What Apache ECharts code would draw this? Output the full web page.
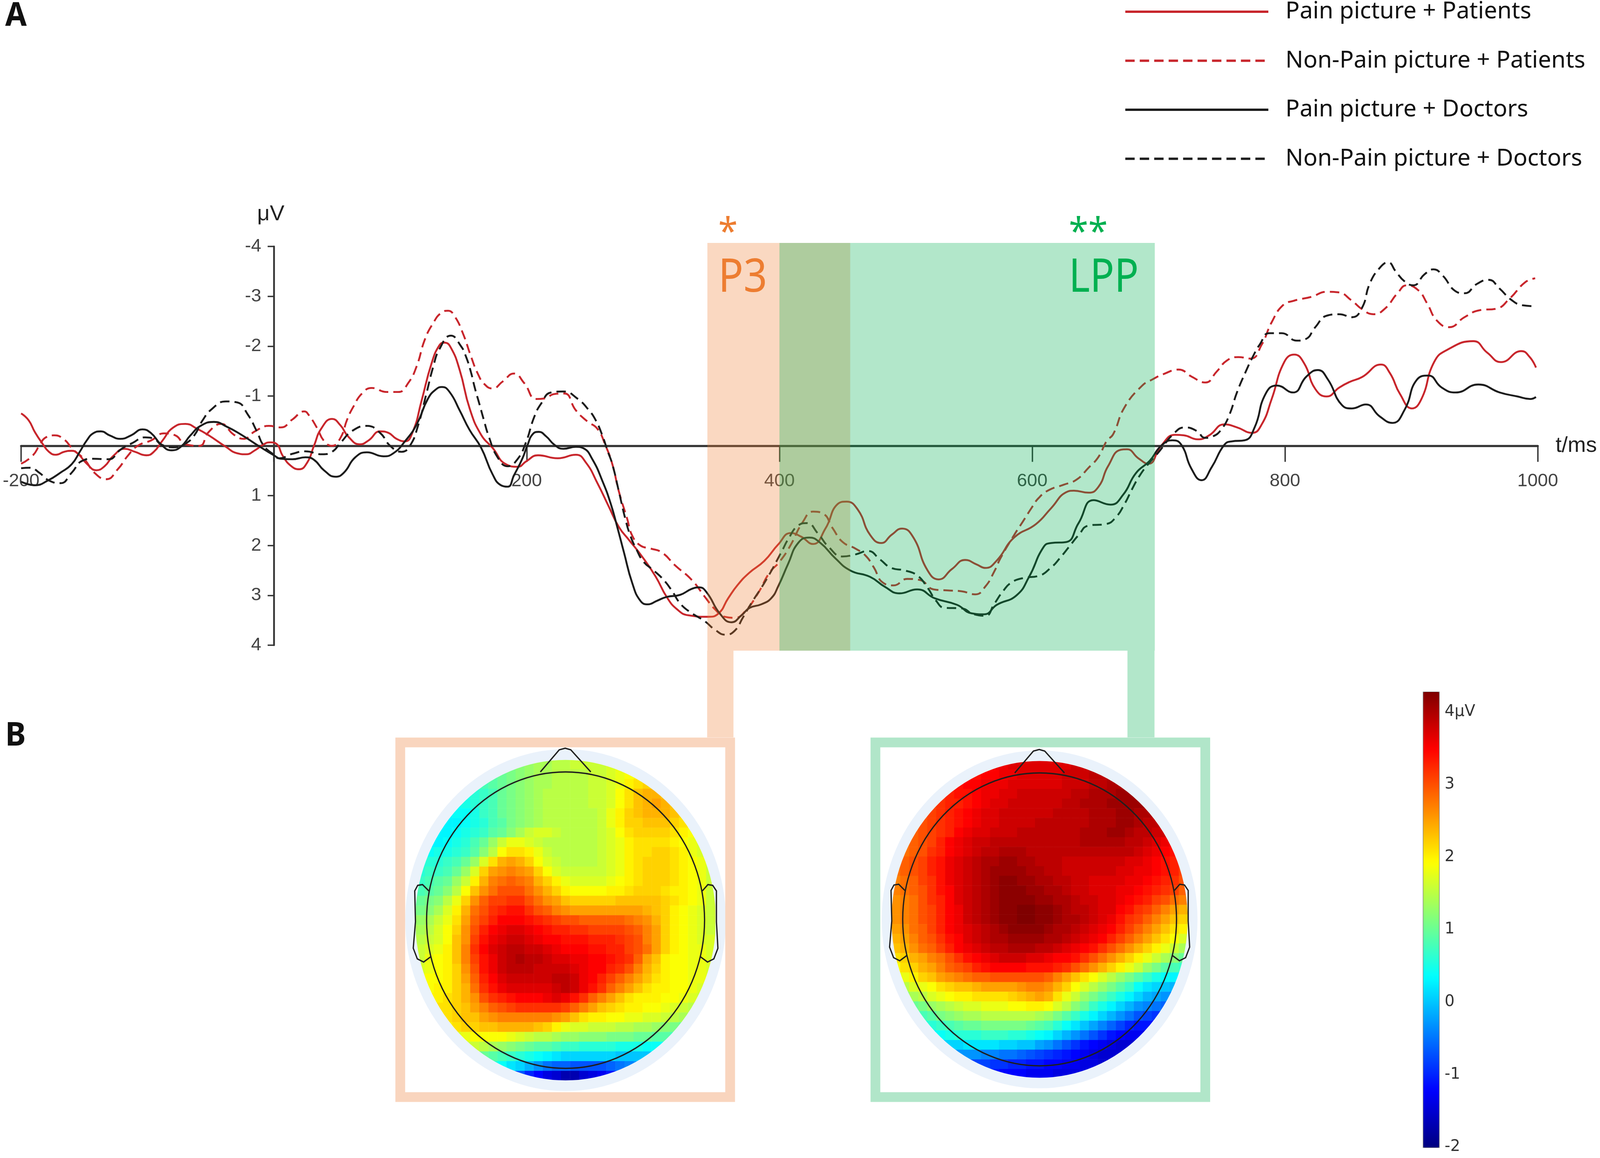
<!DOCTYPE html>
<html>
<head>
<meta charset="utf-8">
<script src="https://cdn.jsdelivr.net/npm/echarts@6/dist/echarts.min.js"></script>
<style>
html, body { margin: 0; padding: 0; background: #fff; overflow: hidden; }
#main { width: 100vw; height: 100vh; }
</style>
</head>
<body>
<div id="main"></div>
<script>
// ERP curves, [ms, uV]
const painPatients = [[-200,-.65],[-194,-.51],[-189,-.27],[-183,-.04],[-178,.12],[-172.5,.18],[-166,.12],[-160,.1],[-155,.16],[-148,.36],[-140.5,.49],[-134,.41],[-127,.2],[-118,.06],[-110,.12],[-101,.19],[-95,.12],[-88,-.11],[-80,-.36],[-70,-.44],[-60.6,-.34],[-51.5,-.21],[-38,.02],[-29,.15],[-22,.17],[-15,.09],[-8,-.03],[-3,-.07],[2,-.04],[7,.2],[13.4,.4],[20,.47],[26.5,.33],[31.7,0],[37.6,-.35],[46,-.54],[52.7,-.41],[59,-.18],[68,-.03],[75,-.11],[84,-.29],[90.6,-.26],[97,-.14],[103.7,-.09],[110,-.29],[116.8,-.9],[124.7,-1.65],[131,-2.02],[135,-2.07],[140,-1.97],[147,-1.52],[155,-.74],[164,-.22],[173,.04],[183.6,.37],[193,.42],[199.7,.31],[209,.19],[224.6,.25],[239,.18],[247,.34],[256,.75],[265,1.22],[273,1.63],[281,1.89],[291,2.21],[302,2.62],[311,3.04],[319,3.28],[328,3.4],[343.7,3.43],[351.5,3.37],[359.4,3.06],[367,2.79],[376,2.55],[388,2.31],[399,1.98],[409,1.75],[417,1.82],[426.6,1.97],[436.4,1.66],[446,1.17],[453,1.12],[462,1.28],[471.8,1.79],[480.6,1.95],[489,1.78],[497,1.66],[506,1.84],[517,2.49],[526,2.68],[536.6,2.47],[547,2.29],[556,2.38],[563,2.45],[572,2.3],[585.7,1.84],[603,1.57],[615,1.25],[627,.93],[633,.9],[644.6,.94],[652.5,.82],[660,.41],[670,.08],[675,.07],[684,.25],[692,.36],[702,0],[713,-.22],[720,-.21],[731,-.13],[740,-.21],[752,-.43],[762,-.37],[774,-.26],[781.6,-.43],[789.5,-.94],[799.4,-1.68],[807.4,-1.83],[815.3,-1.65],[824,-1.14],[833,-.99],[843,-1.17],[851,-1.28],[861,-1.38],[876,-1.63],[883,-1.46],[891,-1.04],[900.5,-.75],[908,-.94],[918,-1.68],[928,-1.92],[949,-2.1],[960,-1.87],[971,-1.68],[987,-1.9],[993.7,-1.78],[998.6,-1.57]];
const nonPainPatients = [[-200,.36],[-191,.2],[-185,-.03],[-181,-.16],[-174,-.21],[-166.6,-.14],[-159,.07],[-149.6,.28],[-142,.54],[-132.6,.67],[-123.5,.47],[-115.6,.2],[-107.8,0],[-97,-.11],[-87,-.25],[-78,-.21],[-70,-.03],[-59,0],[-51.5,-.28],[-41.6,-.44],[-32,-.23],[-24,-.14],[-15,-.29],[-4,-.4],[5.5,-.37],[14.7,-.53],[24,-.69],[27.8,-.61],[34.3,-.35],[39.6,-.1],[46,0],[52.7,-.16],[58,-.53],[63,-.79],[69.7,-1.05],[77.5,-1.16],[89.3,-1.08],[98.5,-1.08],[106.3,-1.26],[113,-1.6],[119.4,-2.13],[126,-2.46],[132.5,-2.67],[137.8,-2.71],[143,-2.6],[149.5,-2.26],[156,-1.79],[161.3,-1.45],[166.5,-1.24],[173,-1.15],[181,-1.29],[190,-1.45],[198,-1.26],[207.6,-.94],[214,-.95],[222,-1.04],[229.8,-1.05],[239,-.71],[248,-.49],[256,-.34],[262.5,0],[267.8,.37],[273,.92],[279.5,1.46],[283.5,1.8],[290,2],[298,2.06],[307,2.14],[317.5,2.4],[330.6,2.69],[341,3.03],[349,3.28],[356.8,3.43],[364.6,3.45],[372.5,3.33],[383,2.96],[392,2.55],[400,2.33],[408,2.03],[418.7,1.52],[426.6,1.32],[434.5,1.36],[442.3,1.66],[450,1.93],[460,2.06],[468,2.2],[474.7,2.44],[481.6,2.74],[490.4,2.8],[501,2.67],[511,2.69],[522,2.88],[532.7,2.9],[544.4,2.92],[555,2.98],[563,2.82],[570,2.52],[575,2.25],[585.7,1.79],[592.6,1.52],[599.4,1.25],[605,1.05],[613,.89],[625,.78],[635,.68],[644.6,.44],[652.5,.22],[659,-.1],[664,-.23],[673,-.77],[686.7,-1.2],[695,-1.33],[704,-1.44],[716,-1.53],[726,-1.39],[737,-1.27],[746,-1.49],[754,-1.71],[763,-1.78],[773,-1.75],[781.6,-2.03],[789.5,-2.48],[798.4,-2.82],[807,-2.91],[821,-2.99],[833,-3.09],[842,-3.08],[853,-2.91],[861,-2.74],[870,-2.64],[879,-2.75],[889,-3.06],[896.5,-3.22],[905.5,-3.12],[912.4,-2.86],[920.3,-2.51],[930,-2.38],[942,-2.58],[954,-2.72],[967,-2.75],[978,-2.96],[990,-3.28],[998,-3.36]];
const painDoctors = [[-200,.72],[-189,.79],[-178.4,.69],[-169,.54],[-160,.37],[-153.6,.12],[-148,-.11],[-143,-.25],[-137,-.29],[-130,-.21],[-121.5,-.14],[-113,-.21],[-104,-.33],[-97,-.25],[-89.4,-.03],[-81,.09],[-73.7,.02],[-66,-.21],[-58,-.4],[-47.5,-.48],[-37,-.38],[-25,-.21],[-11,.02],[0,.19],[5.5,.26],[14.7,.27],[25,.23],[31.7,.28],[39.6,.49],[48.7,.62],[55.3,.54],[64.4,.23],[73.6,.13],[86.7,.21],[94.5,.15],[103.7,-.09],[113,-.43],[122,-.95],[128.6,-1.14],[133,-1.18],[139,-1.08],[147,-.71],[154.8,-.32],[164,.04],[173,.57],[179.6,.79],[185,.82],[190,.59],[196.7,.25],[200.6,-.01],[205,-.24],[209.5,-.28],[215.4,-.19],[222,-.02],[229,.06],[239,.02],[245,.05],[252,.27],[260,.71],[266.5,1.16],[271.7,1.63],[277,2.14],[283.5,2.75],[290,3.11],[296,3.18],[303,3.11],[311,3.03],[321.4,2.99],[330.6,2.87],[336.5,2.84],[342.4,2.94],[353,3.37],[362,3.54],[370,3.4],[376.4,3.25],[385.6,3.18],[393.4,3.06],[399,2.82],[407,2.36],[414.8,1.95],[423.6,1.84],[432.5,1.95],[444,2.25],[456,2.5],[471.8,2.63],[483.5,2.83],[495,2.96],[509,2.88],[523,3.06],[540.5,3.19],[552,3.36],[562,3.38],[572,3.19],[587.6,3],[597.5,2.63],[609,2.03],[615,1.95],[627,1.93],[636.7,1.55],[648.5,1.09],[662,1.18],[672,.98],[682,.55],[693,.3],[702,0],[711,-.11],[718,-.02],[726,.46],[734,.69],[742,.43],[752,-.02],[758,-.09],[768,-.11],[776,-.37],[784.6,-1.04],[793.5,-1.21],[806.4,-1.07],[817,-1.39],[826,-1.52],[834,-1.33],[845,-.82],[853,-.75],[864,-.83],[875,-.59],[885,-.46],[894.6,-.72],[904.5,-1.33],[913.4,-1.41],[924,-1.17],[935,-1.07],[953,-1.23],[970,-1.07],[984,-.99],[994,-.94],[998.6,-.98]];
const nonPainDoctors = [[-200,.45],[-193,.44],[-185.6,.54],[-178.4,.69],[-169,.75],[-160,.54],[-151.6,.3],[-143,.26],[-131,.27],[-121,.07],[-111.7,-.06],[-102,-.17],[-94.7,-.14],[-89.4,-.03],[-80,.03],[-71,-.03],[-63,-.21],[-56.7,-.5],[-49,-.74],[-38,-.89],[-29,-.87],[-20.7,-.63],[-13.5,-.29],[-8,0],[0,.18],[4,.25],[14.7,.16],[25,.11],[38,.17],[46,.12],[52.7,-.06],[62,-.3],[73.6,-.4],[84,-.26],[92,0],[101,.12],[107.6,0],[114,-.4],[120.7,-1.05],[126,-1.58],[131,-1.94],[140,-2.21],[148,-2],[152,-1.79],[156,-1.47],[159,-1.16],[162.6,-.84],[166,-.53],[170,-.19],[177,.23],[185,.41],[192.7,.27],[199.3,-.06],[206,-.58],[211.5,-.85],[219.3,-1.07],[229,-1.09],[240,-.95],[249.4,-.71],[254.7,-.51],[260,-.2],[264,.1],[267.8,.37],[273,.92],[278,1.46],[282,1.8],[286.7,2.07],[292.6,2.33],[300.5,2.5],[308.4,2.69],[315,2.91],[321.4,3.16],[329,3.33],[341,3.52],[349,3.69],[357.4,3.79],[364.6,3.71],[371,3.45],[377.7,3.16],[389.5,2.69],[402,2.11],[407,1.87],[414.8,1.6],[421.7,1.55],[430.5,1.76],[439,2.03],[450,2.22],[460,2.18],[470,2.11],[479.6,2.28],[488.5,2.45],[499,2.5],[509,2.6],[517,2.84],[524,3.11],[530.7,3.25],[543.5,3.26],[554,3.38],[563,3.41],[570,3.17],[576.8,2.92],[583.7,2.74],[593.5,2.65],[605,2.61],[615,2.44],[622,2.25],[630,2],[636.7,1.79],[644.6,1.6],[658.3,1.57],[666,1.44],[673,1.17],[679,.87],[685,.6],[692,.36],[699.6,.14],[713,-.27],[721,-.37],[730,-.3],[737,-.16],[743,-.19],[750,-.34],[756,-.62],[762,-1.07],[769,-1.49],[775,-1.81],[780,-2.03],[787.5,-2.26],[797.4,-2.26],[809.3,-2.11],[816.3,-2.14],[824,-2.38],[833,-2.61],[843,-2.64],[853,-2.58],[861,-2.77],[867,-3.25],[875,-3.57],[881.7,-3.68],[887.6,-3.5],[894.6,-3.3],[901.5,-3.22],[910.4,-3.44],[917.4,-3.54],[925,-3.41],[934,-3.12],[942,-3.06],[952,-3.25],[961,-3.33],[970,-3.15],[979,-2.93],[988,-2.82],[998.6,-2.8]];

// time windows [start ms, end ms, top uV, bottom uV]
const bandP3 = [343, 456, -4.07, 4.11];
const bandLPP = [400, 697, -4.07, 4.11];

const legendNames = ['Pain picture + Patients', 'Non-Pain picture + Patients', 'Pain picture + Doctors', 'Non-Pain picture + Doctors'];
const xTicks = [-200, 0, 200, 400, 600, 800, 1000];
const barTicks = [-2, -1, 0, 1, 2, 3, 4];

// topographic maps, tenths of uV, top row to bottom row, each row centred in a 33 cell square
const topoP3 = [
  [11,12,13,14,14,15,15,16,16,16,16,17,17],
  [9,10,11,12,13,14,14,15,15,15,15,16,16,17,18,19,20],
  [8,9,10,11,12,13,14,14,15,15,15,15,16,16,17,18,20,21,22],
  [5,6,7,8,10,11,12,13,14,15,15,15,15,15,16,16,17,19,21,23,24,24,23],
  [4,5,6,7,8,10,11,12,13,14,15,15,15,15,15,16,16,17,19,21,23,24,25,24,23],
  [3,4,4,5,7,8,10,11,12,13,14,15,15,15,15,15,15,16,18,20,22,23,24,24,24,23,22],
  [3,3,4,5,6,8,9,11,12,13,14,15,15,15,15,15,15,16,18,20,22,22,23,23,23,22,21],
  [3,3,4,5,6,7,9,10,12,14,16,17,17,16,15,15,15,15,16,17,19,21,22,22,22,22,21,20,19],
  [3,3,4,5,6,8,10,13,16,18,18,17,16,15,15,15,15,15,15,16,17,18,20,21,21,21,21,20,19,18,17],
  [4,5,5,6,7,9,12,15,19,21,21,20,18,16,15,15,15,15,15,16,17,18,20,21,21,22,22,21,20,18,17],
  [5,6,6,7,8,10,13,17,21,24,25,24,22,19,17,16,15,15,15,15,16,17,18,20,21,22,22,22,21,20,19,18,16],
  [6,7,7,8,10,13,17,22,25,26,27,26,25,22,19,17,16,16,16,16,16,17,18,20,21,22,22,22,21,20,19,18,16],
  [7,8,9,10,13,16,20,24,27,28,29,28,27,24,22,20,18,17,17,17,17,18,19,20,21,22,22,22,21,20,19,18,16],
  [8,9,10,12,15,19,23,26,28,30,30,30,28,26,24,22,20,19,19,19,19,20,20,21,22,22,22,21,20,20,19,18,16],
  [10,11,12,15,18,22,26,29,31,31,32,32,30,28,26,25,23,22,22,22,22,22,23,23,23,23,23,22,21,20,19,18,16],
  [11,12,14,17,20,24,28,30,32,33,34,34,32,30,29,27,26,25,25,25,25,25,25,25,25,24,23,22,20,19,18,17,16],
  [13,14,16,18,21,25,29,31,33,35,35,35,34,33,32,31,30,30,29,29,29,29,29,28,27,26,24,22,20,19,18,17,16],
  [14,15,17,19,22,26,30,33,35,36,37,37,36,35,34,33,33,32,32,31,31,31,31,30,29,27,25,22,20,19,18,17,16],
  [15,16,17,19,23,26,31,34,36,37,38,38,37,36,35,35,34,34,34,33,33,33,32,31,30,27,25,22,20,19,18,17,17],
  [16,17,18,20,23,27,32,35,37,38,39,39,38,38,37,36,35,35,35,34,34,33,33,31,30,28,25,22,20,19,18,18,17],
  [16,18,19,20,23,27,31,34,36,38,39,40,39,39,38,37,37,36,36,35,35,34,33,32,29,25,23,20,19,19,18,18,17],
  [17,18,19,20,22,26,30,34,36,38,39,39,39,38,38,38,38,37,36,35,35,33,32,30,27,24,22,20,19,19,18,18,17],
  [18,19,19,20,22,25,29,33,35,37,38,38,38,38,38,39,39,38,36,35,33,31,29,27,25,23,21,20,19,19,18,18,17],
  [19,20,20,22,24,28,32,34,36,37,37,37,37,37,38,39,38,36,34,32,29,27,25,23,21,20,20,19,19,18,17],
  [20,20,21,22,24,26,30,32,33,34,35,35,35,36,37,36,34,32,29,27,25,23,21,20,20,20,19,19,18,17,16],
  [21,21,22,23,25,27,29,30,31,32,32,32,32,32,31,29,27,25,23,22,21,20,20,19,19,18,17,16,15],
  [21,22,23,23,25,26,27,27,27,27,27,27,26,25,23,21,20,20,19,19,18,18,17,17,16,15,14],
  [20,21,22,22,23,23,24,24,24,24,23,22,20,18,17,17,16,16,16,15,15,14,14,13,12,11,10],
  [17,18,19,19,19,19,18,17,16,15,15,14,13,13,12,12,12,11,11,11,10,10,9,9,8],
  [16,16,15,14,13,12,11,10,9,9,8,7,7,6,6,6,6,5,5,5,4,4,4],
  [10,9,8,7,6,5,4,3,2,1,1,1,1,1,1,0,0,0,0],
  [6,4,2,1,-1,-3,-5,-6,-6,-7,-7,-7,-7,-6,-5,-4,-3],
  [-4,-7,-10,-12,-14,-15,-17,-17,-15,-14,-13,-11,-9]
];
const topoLPP = [
  [35,36,36,37,37,37,37,37,37,37,38,38,38],
  [33,34,35,35,36,36,37,37,37,37,37,38,38,38,39,39,39],
  [34,35,35,36,36,36,37,37,37,37,37,37,38,38,38,39,39,40,40],
  [32,33,34,34,35,36,36,37,37,38,38,38,38,38,38,39,39,40,40,40,41,41,41],
  [31,32,33,33,34,35,36,37,37,38,38,38,38,38,38,39,39,40,40,40,41,41,41,41,41],
  [30,31,32,33,34,35,36,37,37,38,38,38,38,38,38,39,39,39,39,40,40,40,41,41,40,40,39],
  [30,31,32,33,34,35,36,37,37,38,38,38,38,39,39,39,39,39,39,40,40,40,41,41,40,39,39],
  [29,30,31,32,33,35,36,37,37,38,38,38,39,39,39,39,39,39,39,40,40,40,41,41,40,39,39,38,38],
  [28,29,30,31,33,35,36,37,38,38,39,39,39,39,39,39,39,39,39,39,40,40,40,40,40,39,39,38,37,36,35],
  [28,29,30,32,33,35,36,37,38,39,39,40,40,40,39,39,39,39,39,39,39,39,39,39,39,39,38,37,36,35,34],
  [28,29,30,31,33,34,36,37,38,39,40,40,41,41,40,40,39,39,39,38,38,38,38,38,38,38,37,37,36,35,34,33,32],
  [28,29,30,31,33,34,36,37,38,39,40,41,41,41,41,40,40,39,39,38,38,38,38,38,38,37,37,36,36,35,34,33,31],
  [27,28,29,31,32,34,36,37,38,39,40,41,42,42,41,41,40,40,39,39,38,38,37,37,37,37,36,36,35,34,33,32,30],
  [27,28,29,30,32,34,35,37,38,39,40,41,42,42,42,41,41,40,40,39,38,38,37,37,37,36,36,35,34,33,32,31,29],
  [26,27,28,30,32,33,35,37,38,39,40,41,42,42,42,42,41,41,40,40,39,38,38,37,37,36,35,34,33,31,30,28,27],
  [26,27,28,30,31,33,35,36,38,39,40,41,42,42,43,43,42,42,41,40,39,39,38,37,37,35,34,32,31,29,27,25,24],
  [26,27,28,30,31,33,35,36,38,39,40,41,42,42,43,43,42,42,41,40,40,39,38,37,36,34,32,31,29,27,25,23,22],
  [25,26,28,29,31,33,35,36,37,38,39,40,41,42,42,42,42,41,40,40,39,38,37,36,35,33,31,29,27,25,23,21,20],
  [24,25,27,29,30,32,34,35,37,38,39,40,40,41,41,41,41,40,40,39,38,37,36,35,33,31,29,27,25,23,21,19,17],
  [23,24,26,28,29,31,33,35,36,37,38,39,39,40,40,40,39,39,38,37,36,35,34,32,30,28,26,24,22,20,18,16,14],
  [21,22,24,25,27,28,30,32,34,35,36,37,38,38,38,37,37,36,35,35,34,32,30,28,26,24,22,20,18,16,14,12,10],
  [19,21,22,24,25,27,29,30,31,33,34,35,35,35,35,34,34,34,33,32,30,28,26,24,22,20,18,16,13,11,9,8,7],
  [17,18,20,22,23,25,26,27,28,29,29,30,30,30,30,30,30,29,27,25,23,21,19,17,15,13,11,9,7,5,4,3,2],
  [15,17,18,19,21,22,23,23,24,25,25,25,25,26,27,27,26,24,22,19,17,15,13,11,9,7,4,2,1,0,-1],
  [12,14,15,17,18,19,20,20,21,21,21,21,22,23,24,25,24,21,18,16,13,11,9,7,5,3,1,-1,-2,-3,-4],
  [10,11,13,14,15,16,17,17,18,18,18,19,19,20,20,19,17,15,12,10,7,5,3,1,-1,-3,-4,-5,-6],
  [8,9,11,12,13,14,14,15,15,15,15,15,15,14,13,11,9,7,5,3,1,-1,-3,-5,-7,-8,-9],
  [5,6,7,8,9,10,10,11,11,11,11,11,10,9,8,6,4,2,0,-2,-4,-6,-8,-10,-11,-11,-12],
  [3,4,5,6,6,6,7,7,7,6,6,5,4,3,1,-1,-3,-5,-7,-9,-11,-12,-13,-13,-14],
  [0,1,1,2,2,2,2,1,1,0,0,-2,-3,-5,-7,-9,-11,-12,-13,-14,-15,-15,-15],
  [-3,-3,-3,-4,-4,-5,-5,-6,-7,-8,-9,-10,-11,-12,-13,-14,-15,-15,-15],
  [-7,-8,-8,-9,-9,-10,-10,-11,-11,-12,-12,-13,-13,-14,-14,-15,-15],
  [-11,-11,-12,-12,-12,-13,-13,-13,-14,-14,-14,-14,-15]
];

const RED = '#c8262c';
const BLACK = '#1c1c1c';
const PEACH = 'rgba(237,125,49,0.3)';
const GREEN = 'rgba(0,176,80,0.3)';
const DASH = [24, 13];
const UI_FONT = '"Noto Sans", sans-serif';
const AXIS_FONT = '"Liberation Sans Narrow", "Liberation Sans", sans-serif';

const chart = echarts.init(document.getElementById('main'));

// the layout was measured on a 4317 wide picture, the window can be narrower
const S = chart.getWidth() / 4317;

// flatten rows into [col, row, uV] cells
function topoCells(rows) {
    const cells = [];
    rows.forEach((row, i) => {
        const start = (33 - row.length) / 2;
        row.forEach((v, k) => cells.push([start + k, i, v / 10]));
    });
    return cells;
}

function erpLine(name, data, color, dashed) {
    return {
        type: 'line', name: name, data: data, xAxisIndex: 0, yAxisIndex: 0,
        smooth: 0.5, symbol: 'none', showSymbol: false, z: 3,
        lineStyle: { color: color, width: 4.8, type: dashed ? DASH : 'solid' },
        itemStyle: { color: color }
    };
}

function topoSeries(rows, index) {
    return {
        type: 'heatmap', data: topoCells(rows), xAxisIndex: index, yAxisIndex: index,
        progressive: 0, itemStyle: { borderWidth: 0 }, emphasis: { disabled: true }
    };
}

// pale halo, scalp circle, nose and ears of one head
function headShapes(cx, cy, sx, sy) {
    const line = { stroke: '#1f1f1f', lineWidth: 3.5, fill: null };
    return {
        type: 'group', x: cx * S, y: cy, scaleX: sx * S, scaleY: sy, children: [
            { type: 'circle', z: 20, shape: { cx: 0, cy: 0, r: 450 }, style: { stroke: '#ffffff', lineWidth: 37, fill: null } },
            { type: 'circle', z: 20, shape: { cx: 0, cy: 0, r: 419 }, style: { stroke: '#eaf2fb', lineWidth: 27, fill: null } },
            { type: 'circle', z: 21, shape: { cx: 0, cy: 0, r: 375 }, style: line },
            { type: 'polyline', z: 21, shape: { points: [[-68,-375],[-17,-431],[-1,-435],[14,-431],[68,-375]] }, style: line },
            { type: 'polyline', z: 21, shape: { points: [[-369,-74],[-386,-90],[-399,-88],[-407,-74],[-405,4],[-411,71],[-400,98],[-383,106],[-363,92]] }, style: line },
            { type: 'polyline', z: 21, shape: { points: [[369,-74],[384,-90],[397,-88],[407,-74],[407,4],[411,71],[400,98],[383,106],[363,92]] }, style: line }
        ]
    };
}

function label(text, x, y, size, color, weight, squeeze) {
    return {
        type: 'text', z: 30, x: x * S, y: y, scaleX: (squeeze || 1) * S,
        style: { text: text, font: (weight || 'normal') + ' ' + size + 'px ' + UI_FONT, fill: color, verticalAlign: 'middle' }
    };
}

const hiddenCat = (index) => ({
    type: 'category', gridIndex: index, show: false, boundaryGap: true,
    data: Array.from({ length: 33 }, (_, i) => i)
});

const option = {
    animation: false,
    backgroundColor: '#ffffff',
    grid: [
        { left: 57 * S, right: 168 * S, top: 631, bottom: 1313, outerBoundsMode: 'none' },
        { left: 1122 * S, top: 1945, width: 808 * S, height: 822, outerBoundsMode: 'none' },
        { left: 2405 * S, top: 1946, width: 800 * S, height: 816, outerBoundsMode: 'none' },
        { left: 3839 * S, top: 1771, width: 43 * S, height: 1166, outerBoundsMode: 'none' }
    ],
    xAxis: [
        {
            type: 'value', gridIndex: 0, min: -200, max: 1000, interval: 200,
            name: 't/ms', nameLocation: 'end', nameGap: 48 * S,
            nameTextStyle: { fontFamily: AXIS_FONT, fontSize: 56, color: '#222' },
            splitLine: { show: false },
            axisLine: { onZero: true, lineStyle: { color: '#333', width: 5.5 } },
            axisTick: { length: 41, lineStyle: { color: '#333', width: 3.5 }, customValues: xTicks },
            axisLabel: {
                // labels stay at the grid edge in v6, pull them back under the zero line
                margin: -443, fontFamily: AXIS_FONT, fontSize: 47, color: '#444',
                customValues: xTicks.filter(v => v !== 0), formatter: v => String(v)
            }
        },
        hiddenCat(1), hiddenCat(2),
        { type: 'category', gridIndex: 3, show: false, data: ['bar'] }
    ],
    yAxis: [
        {
            type: 'value', gridIndex: 0, min: -4, max: 4, interval: 1, inverse: true,
            name: 'μV', nameLocation: 'start', nameGap: 54,
            nameTextStyle: { fontFamily: AXIS_FONT, fontSize: 56, color: '#222', align: 'center', padding: [0, 16, 0, 0] },
            splitLine: { show: false },
            axisLine: { onZero: true, lineStyle: { color: '#333', width: 4.5 } },
            axisTick: { length: 16, lineStyle: { color: '#333', width: 3.5 } },
            axisLabel: {
                margin: -648 * S, fontFamily: AXIS_FONT, fontSize: 47, color: '#444',
                formatter: v => (v === 0 ? '' : String(v))
            }
        },
        { ...hiddenCat(1), inverse: true }, { ...hiddenCat(2), inverse: true },
        {
            type: 'value', gridIndex: 3, position: 'right', min: -2, max: 4.28,
            splitLine: { show: false }, axisLine: { show: false },
            axisTick: { inside: true, length: 13, lineStyle: { color: '#444', width: 2.5 }, customValues: barTicks },
            axisLabel: {
                margin: 15, padding: [12, 0, 0, 0], fontFamily: '"DejaVu Sans", sans-serif', fontSize: 40, color: '#333',
                customValues: barTicks, formatter: v => (v === 4 ? '4μV' : String(v))
            }
        }
    ],
    legend: {
        data: legendNames, orient: 'vertical', left: 3033 * S, top: 0, padding: 0,
        itemWidth: 386 * S, itemHeight: 56, itemGap: 65.5,
        itemStyle: { opacity: 0 },
        lineStyle: { width: 6 },
        textStyle: { fontFamily: UI_FONT, fontSize: 60, color: '#111', lineHeight: 56, padding: [0, 0, 0, 41 * S] }
    },
    visualMap: {
        type: 'continuous', seriesIndex: [5, 6], min: -2, max: 4.28, calculable: false,
        show: true, left: 3839 * S, top: 1771, itemWidth: 43 * S, itemHeight: 1166, padding: 0,
        text: null, showLabel: false, borderColor: '#666', borderWidth: 2,
        indicatorSize: 0, hoverLink: false,
        inRange: { color: ['#00007f', '#0000ff', '#007fff', '#00ffff', '#7fff7f', '#ffff00', '#ff7f00', '#ff0000', '#7f0000'] }
    },
    graphic: [
        label('A', 14, 42, 84, '#111', 'bold'),
        label('B', 14, 1885, 84, '#111', 'bold'),
        label('*', 1938, 598, 95, '#ed7d31'),
        label('**', 2884, 598, 95, '#00b050'),
        label('P3', 1938, 713, 118, '#ed7d31', 'normal', 0.95),
        label('LPP', 2884, 713, 118, '#00b050', 'normal', 0.92),
        { type: 'rect', z: 22, shape: { x: 1908 * S, y: 1666, width: 71 * S, height: 222 }, style: { fill: PEACH } },
        { type: 'rect', z: 22, shape: { x: 3042 * S, y: 1666, width: 73 * S, height: 222 }, style: { fill: GREEN } },
        { type: 'rect', z: 22, shape: { x: 1080 * S, y: 1901, width: 890 * S, height: 908 }, style: { stroke: '#f9d5be', lineWidth: 25, fill: null } },
        { type: 'rect', z: 22, shape: { x: 2362 * S, y: 1901, width: 890 * S, height: 908 }, style: { stroke: '#b1e6c9', lineWidth: 25, fill: null } },
        headShapes(1526, 2356, 1, 1.012),
        headShapes(2805, 2354, 0.985, 1)
    ],
    series: [
        erpLine(legendNames[0], painPatients, RED, false),
        erpLine(legendNames[1], nonPainPatients, RED, true),
        erpLine(legendNames[2], painDoctors, BLACK, false),
        erpLine(legendNames[3], nonPainDoctors, BLACK, true),
        {
            // translucent windows lie over the curves, as in the figure
            type: 'custom', name: 'windows', xAxisIndex: 0, yAxisIndex: 0, z: 10, clip: false, silent: true,
            encode: { x: [0, 1], y: [2, 3] },
            data: [bandP3, bandLPP],
            renderItem: (params, api) => {
                const a = api.coord([api.value(0), api.value(2)]);
                const b = api.coord([api.value(1), api.value(3)]);
                return {
                    type: 'rect',
                    shape: { x: a[0], y: a[1], width: b[0] - a[0], height: b[1] - a[1] },
                    style: { fill: params.dataIndex === 0 ? PEACH : GREEN }
                };
            }
        },
        topoSeries(topoP3, 1),
        topoSeries(topoLPP, 2)
    ]
};

chart.setOption(option);
window.addEventListener('resize', () => chart.resize());
</script>
</body>
</html>
